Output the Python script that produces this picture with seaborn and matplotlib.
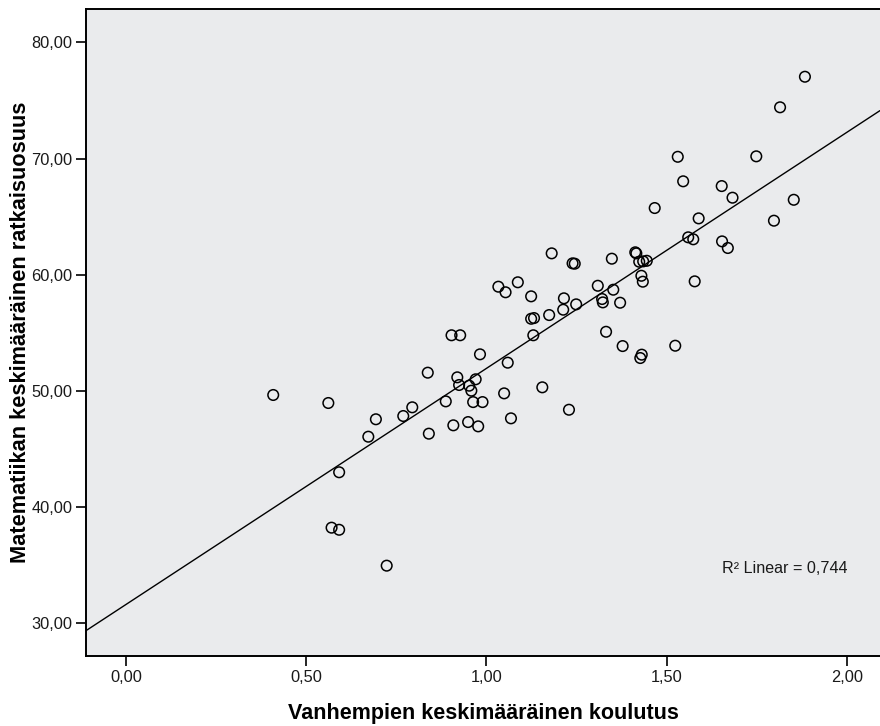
import matplotlib
matplotlib.use("Agg")
import matplotlib.pyplot as plt
from matplotlib.ticker import FixedLocator, FuncFormatter
import numpy as np
import pandas as pd
import seaborn as sns

# Parents' mean education level (x) and mean math solution rate (y), one value per school
koulutus = [
    0.408, 0.561, 0.591, 0.570, 0.591, 0.723, 0.672, 0.693, 0.769, 0.794,
    0.837, 0.840, 0.887, 0.908, 0.903, 0.927, 0.982, 0.919, 0.924, 0.952,
    0.970, 0.958, 0.963, 0.989, 0.949, 0.977, 1.049, 1.059, 1.155, 1.068,
    1.229, 1.181, 1.239, 1.245, 1.348, 1.413, 1.416, 1.424, 1.435, 1.445,
    1.560, 1.574, 1.033, 1.053, 1.087, 1.124, 1.215, 1.213, 1.249, 1.174,
    1.124, 1.132, 1.130, 1.309, 1.352, 1.321, 1.323, 1.371, 1.430, 1.434,
    1.578, 1.332, 1.378, 1.431, 1.427, 1.524, 1.884, 1.815, 1.531, 1.749,
    1.546, 1.653, 1.683, 1.467, 1.853, 1.798, 1.589, 1.654, 1.670,
]
ratkaisuosuus = [
    49.65, 48.96, 43.00, 38.23, 38.05, 34.96, 46.06, 47.56, 47.84, 48.59,
    51.57, 46.32, 49.10, 47.04, 54.79, 54.79, 53.15, 51.17, 50.51, 50.45,
    51.00, 50.02, 49.04, 49.04, 47.32, 46.95, 49.79, 52.43, 50.31, 47.64,
    48.38, 61.84, 60.98, 60.95, 61.38, 61.93, 61.84, 61.12, 61.15, 61.20,
    63.22, 63.05, 58.97, 58.49, 59.35, 58.14, 57.97, 56.99, 57.45, 56.53,
    56.21, 56.27, 54.79, 59.05, 58.71, 57.91, 57.62, 57.59, 59.91, 59.40,
    59.43, 55.09, 53.86, 53.12, 52.83, 53.89, 77.04, 74.41, 70.15, 70.19,
    68.04, 67.63, 66.63, 65.74, 66.45, 64.65, 64.85, 62.87, 62.30,
]

x_ticks = [0.0, 0.5, 1.0, 1.5, 2.0]
y_ticks = [30, 40, 50, 60, 70, 80]
r2_label = "R² Linear = 0,744"
x_title = "Vanhempien keskimääräinen koulutus"
y_title = "Matematiikan keskimääräinen ratkaisuosuus"

df = pd.DataFrame({"koulutus": koulutus, "ratkaisuosuus": ratkaisuosuus})

sns.set_theme(style="white")
plt.rcParams["font.family"] = ["Liberation Sans", "DejaVu Sans"]

W, H = 880, 726
fig = plt.figure(figsize=(W / 100, H / 100), dpi=100)
fig.patch.set_facecolor("white")

left, right, top, bottom = 86, 880, 9, 656.3
ax = fig.add_axes([left / W, 1 - bottom / H, (right - left) / W, (bottom - top) / H])
ax.set_facecolor("#EAEBED")

ax.set_xlim(-0.1117, 2.0924)
ax.set_ylim(27.16, 82.87)

sns.scatterplot(
    data=df, x="koulutus", y="ratkaisuosuus", ax=ax,
    marker="o", s=58, facecolor="none", edgecolor="black", linewidth=1.1,
    zorder=3, legend=False,
)
sns.regplot(
    data=df, x="koulutus", y="ratkaisuosuus", ax=ax,
    scatter=False, ci=None, truncate=False,
    line_kws={"color": "black", "linewidth": 1.0, "zorder": 2},
)
ax.set_xlim(-0.1117, 2.0924)
ax.set_ylim(27.16, 82.87)

comma = lambda v, _: f"{v:.2f}".replace(".", ",")
ax.xaxis.set_major_locator(FixedLocator(x_ticks))
ax.yaxis.set_major_locator(FixedLocator(y_ticks))
ax.xaxis.set_major_formatter(FuncFormatter(comma))
ax.yaxis.set_major_formatter(FuncFormatter(comma))
ax.tick_params(axis="both", which="major", direction="out", length=7.2, width=1.2,
               color="black", labelsize=11.8, labelcolor="#1a1a1a", pad=2.5)
ax.tick_params(bottom=True, left=True, top=False, right=False)

for side in ("left", "bottom", "top"):
    ax.spines[side].set_visible(True)
    ax.spines[side].set_color("black")
    ax.spines[side].set_linewidth(1.4)
ax.spines["right"].set_visible(False)

ax.set_xlabel(x_title, fontsize=15.5, fontweight="bold", color="black", va="center")
ax.set_ylabel(y_title, fontsize=15.7, fontweight="bold", color="black", va="center")
ax.xaxis.set_label_coords(0.5, (bottom - 713) / (bottom - top))
ax.yaxis.set_label_coords((20 - left) / (right - left), 0.5)

ax.text(1.653, 34.75, r2_label, fontsize=11.6, color="#1a1a1a", ha="left", va="center")

fig.savefig("out.png", dpi=100, facecolor="white")
